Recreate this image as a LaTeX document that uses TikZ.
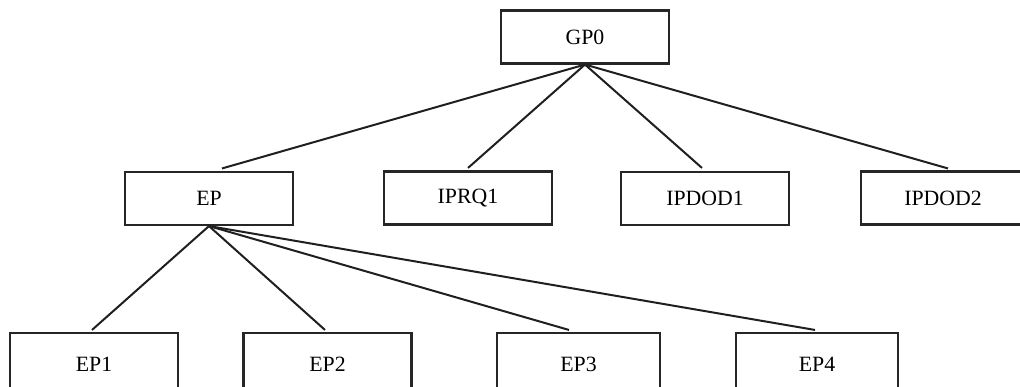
\documentclass[tikz,border=0pt]{standalone}
\usepackage{fontspec}
\setmainfont{Liberation Serif}
\usetikzlibrary{calc}
\begin{document}
\begin{tikzpicture}[x=1pt,y=-1pt,
  box/.style={draw=black!85,line width=2.1pt,fill=white,inner sep=0pt,
    minimum height=53pt,font=\fontsize{21.8}{24}\selectfont},
  wide/.style={minimum width=168pt},
  tall/.style={minimum height=62pt},
  link/.style={draw=black!88,line width=2pt}]
\useasboundingbox (0,0) rectangle (1020,386);
\clip (0,0) rectangle (1020,386);
\node[box,wide] (GP0) at (585,37) {GP0};
\node[box,wide] (EP) at (209,198.5) {EP};
\node[box,wide] (IPRQ1) at (468,198) {IPRQ1};
\node[box,wide] (IPDOD1) at (705,198.5) {IPDOD1};
\node[box,minimum width=164pt] (IPDOD2) at (943,198) {IPDOD2};
\node[box,wide,tall] (EP1) at (94,364) {EP1};
\node[box,wide,tall] (EP2) at (327.5,364) {EP2};
\node[box,minimum width=163pt,tall] (EP3) at (578.5,364) {EP3};
\node[box,minimum width=162pt,tall] (EP4) at (817,364) {EP4};
\draw[link] (GP0.south) -- ($(EP.north)+(13,-2.5)$);
\draw[link] (GP0.south) -- ($(IPRQ1.north)+(0,-2.5)$);
\draw[link] (GP0.south) -- ($(IPDOD1.north)+(-3,-3)$);
\draw[link] (GP0.south) -- ($(IPDOD2.north)+(5,-2)$);
\draw[link] (EP.south) -- ($(EP1.north)+(-2,-2)$);
\draw[link] (EP.south) -- ($(EP2.north)+(-2.5,-2)$);
\draw[link] (EP.south) -- ($(EP3.north)+(-9.5,-2)$);
\draw[link] (EP.south) -- ($(EP4.north)+(-2,-2)$);
\end{tikzpicture}
\end{document}
